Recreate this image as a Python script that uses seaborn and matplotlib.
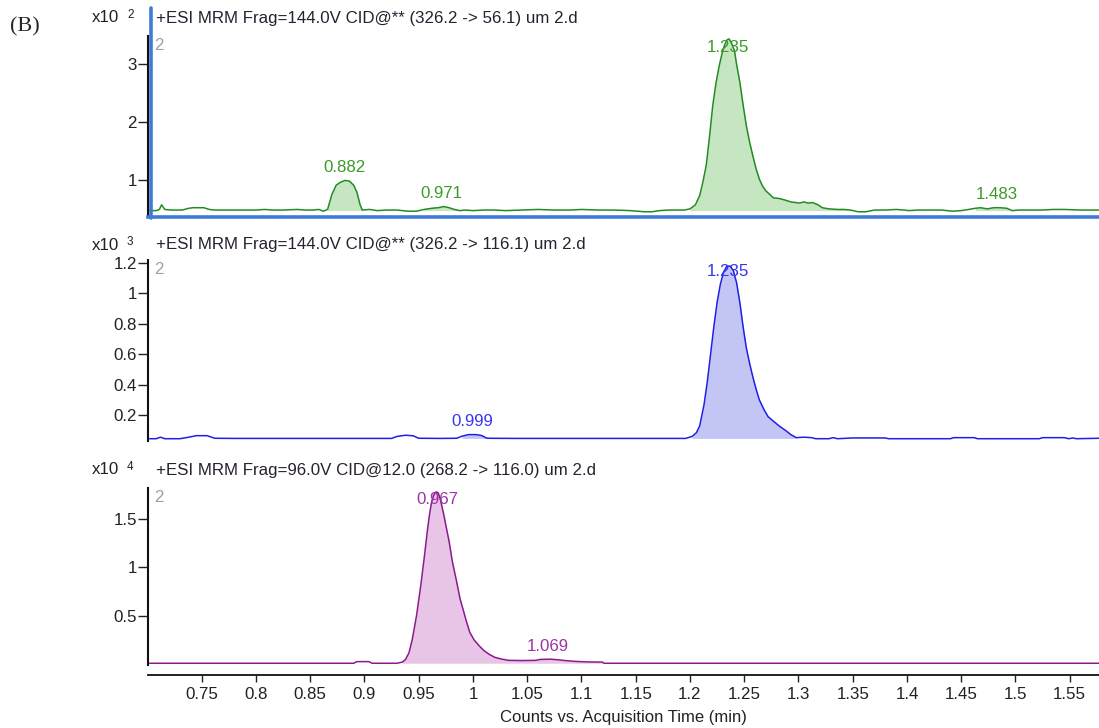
import numpy as np
import pandas as pd
import matplotlib
matplotlib.use('Agg')
import matplotlib.pyplot as plt
import seaborn as sns
from matplotlib.lines import Line2D
from matplotlib.ticker import FuncFormatter

# --- panel 1 : 326.2 -> 56.1 (x10^2 counts) ---
t1 = [0.702, 0.708, 0.711, 0.713, 0.716, 0.722, 0.732, 0.738, 0.742, 0.752,
      0.757, 0.762, 0.775, 0.790, 0.800, 0.808, 0.815, 0.825, 0.838, 0.845,
      0.852, 0.858, 0.862, 0.866, 0.870, 0.874, 0.878, 0.882, 0.886, 0.890,
      0.893, 0.896, 0.898, 0.905, 0.912, 0.920, 0.930, 0.940, 0.948, 0.955,
      0.962, 0.968, 0.973, 0.978, 0.983, 0.988, 0.993, 1.000, 1.010, 1.020,
      1.030, 1.045, 1.060, 1.075, 1.090, 1.100, 1.115, 1.130, 1.145, 1.158,
      1.165, 1.172, 1.180, 1.188, 1.195, 1.200, 1.205, 1.209, 1.212, 1.215,
      1.218, 1.221, 1.224, 1.227, 1.230, 1.232, 1.234, 1.236, 1.238, 1.241,
      1.243, 1.246, 1.249, 1.252, 1.255, 1.258, 1.261, 1.264, 1.267, 1.270,
      1.274, 1.277, 1.282, 1.288, 1.293, 1.297, 1.301, 1.305, 1.309, 1.313,
      1.318, 1.322, 1.328, 1.336, 1.342, 1.348, 1.355, 1.362, 1.370, 1.380,
      1.390, 1.397, 1.402, 1.410, 1.420, 1.432, 1.442, 1.450, 1.457, 1.463,
      1.468, 1.474, 1.480, 1.486, 1.492, 1.497, 1.503, 1.512, 1.525, 1.535,
      1.545, 1.560, 1.577]
y1 = [0.48, 0.48, 0.50, 0.58, 0.50, 0.49, 0.49, 0.52, 0.53, 0.53,
      0.50, 0.49, 0.49, 0.49, 0.49, 0.50, 0.49, 0.49, 0.50, 0.49,
      0.49, 0.50, 0.47, 0.50, 0.76, 0.92, 0.97, 1.00, 0.99, 0.92,
      0.80, 0.58, 0.49, 0.50, 0.48, 0.49, 0.49, 0.47, 0.47, 0.50,
      0.52, 0.53, 0.55, 0.53, 0.50, 0.48, 0.49, 0.48, 0.49, 0.49,
      0.48, 0.49, 0.50, 0.49, 0.49, 0.50, 0.49, 0.49, 0.48, 0.46,
      0.46, 0.48, 0.49, 0.49, 0.49, 0.51, 0.58, 0.74, 0.98, 1.26,
      1.75, 2.29, 2.68, 2.98, 3.22, 3.34, 3.42, 3.44, 3.38, 3.24,
      3.00, 2.69, 2.30, 1.94, 1.66, 1.42, 1.20, 1.02, 0.90, 0.82,
      0.75, 0.70, 0.69, 0.66, 0.63, 0.62, 0.61, 0.63, 0.61, 0.62,
      0.58, 0.53, 0.51, 0.50, 0.50, 0.49, 0.46, 0.46, 0.49, 0.49,
      0.50, 0.49, 0.48, 0.49, 0.49, 0.49, 0.47, 0.48, 0.50, 0.52,
      0.53, 0.51, 0.53, 0.53, 0.52, 0.48, 0.49, 0.49, 0.49, 0.50,
      0.50, 0.49, 0.49]
fills1 = [(0.866, 0.898), (0.955, 0.988), (1.200, 1.348), (1.463, 1.497)]
peaks1 = [0.882, 0.971, 1.235, 1.483]

# --- panel 2 : 326.2 -> 116.1 (x10^3 counts) ---
t2 = [0.702, 0.708, 0.712, 0.716, 0.730, 0.738, 0.745, 0.755, 0.762, 0.780,
      0.800, 0.830, 0.860, 0.900, 0.925, 0.930, 0.938, 0.945, 0.950, 0.970,
      0.985, 0.990, 0.996, 1.003, 1.008, 1.013, 1.040, 1.080, 1.120, 1.160,
      1.196, 1.202, 1.206, 1.209, 1.213, 1.216, 1.219, 1.222, 1.225, 1.228,
      1.231, 1.234, 1.237, 1.240, 1.243, 1.246, 1.249, 1.252, 1.255, 1.258,
      1.261, 1.264, 1.268, 1.272, 1.277, 1.282, 1.288, 1.293, 1.298, 1.305,
      1.312, 1.316, 1.328, 1.332, 1.336, 1.350, 1.380, 1.383, 1.440, 1.443,
      1.462, 1.465, 1.522, 1.525, 1.545, 1.549, 1.553, 1.556, 1.577]
y2 = [0.045, 0.045, 0.055, 0.045, 0.045, 0.055, 0.065, 0.065, 0.048, 0.047,
      0.047, 0.047, 0.047, 0.047, 0.047, 0.060, 0.068, 0.064, 0.048, 0.047,
      0.048, 0.062, 0.072, 0.072, 0.066, 0.048, 0.047, 0.047, 0.047, 0.047,
      0.047, 0.060, 0.085, 0.13, 0.27, 0.42, 0.60, 0.78, 0.94, 1.06,
      1.14, 1.18, 1.18, 1.15, 1.07, 0.94, 0.78, 0.64, 0.54, 0.45,
      0.37, 0.30, 0.24, 0.19, 0.16, 0.13, 0.10, 0.072, 0.052, 0.055,
      0.052, 0.045, 0.045, 0.052, 0.045, 0.050, 0.050, 0.045, 0.045, 0.052,
      0.052, 0.045, 0.045, 0.052, 0.052, 0.045, 0.050, 0.045, 0.048]
fills2 = [(0.990, 1.013), (1.202, 1.298)]
peaks2 = [0.999, 1.235]

# --- panel 3 : 268.2 -> 116.0 (x10^4 counts) ---
t3 = [0.702, 0.800, 0.890, 0.893, 0.904, 0.907, 0.930, 0.935, 0.938, 0.941,
      0.944, 0.948, 0.952, 0.955, 0.958, 0.960, 0.962, 0.964, 0.966, 0.968,
      0.970, 0.973, 0.976, 0.978, 0.981, 0.985, 0.988, 0.991, 0.994, 0.997,
      1.001, 1.006, 1.010, 1.015, 1.020, 1.026, 1.033, 1.045, 1.058, 1.062,
      1.072, 1.078, 1.085, 1.093, 1.105, 1.119, 1.121, 1.300, 1.577]
y3 = [0.008, 0.008, 0.008, 0.025, 0.025, 0.008, 0.008, 0.02, 0.05, 0.115,
      0.25, 0.50, 0.82, 1.09, 1.38, 1.55, 1.68, 1.75, 1.78, 1.77,
      1.70, 1.55, 1.38, 1.27, 1.06, 0.85, 0.68, 0.56, 0.44, 0.33,
      0.25, 0.185, 0.14, 0.10, 0.07, 0.052, 0.038, 0.036, 0.038, 0.048,
      0.050, 0.044, 0.036, 0.028, 0.022, 0.020, 0.008, 0.008, 0.008]
fills3 = [(0.935, 1.121)]
peaks3 = [0.967, 1.069]

titles = ['+ESI MRM Frag=144.0V CID@** (326.2 -> 56.1) um 2.d',
          '+ESI MRM Frag=144.0V CID@** (326.2 -> 116.1) um 2.d',
          '+ESI MRM Frag=96.0V CID@12.0 (268.2 -> 116.0) um 2.d']
exponents = ['2', '3', '4']
xticks = [0.75, 0.8, 0.85, 0.9, 0.95, 1.0, 1.05, 1.1, 1.15, 1.2, 1.25, 1.3,
          1.35, 1.4, 1.45, 1.5, 1.55]
yticks = [[1, 2, 3], [0.2, 0.4, 0.6, 0.8, 1.0, 1.2], [0.5, 1.0, 1.5]]

sns.set_style('ticks')
plt.rcParams['font.family'] = ['Liberation Sans', 'DejaVu Sans']

W, H = 1099, 728
fig = plt.figure(figsize=(W / 100, H / 100), dpi=100)

def px(x, y):
    return x / W, 1 - y / H

# axes boxes in pixels: (top, bottom)
boxes = [(36, 217), (260, 441), (488, 665)]
ylims = [(0.37, 3.49), (0.03, 1.22), (-0.01, 1.82)]
bases = [0.48, 0.047, 0.008]
line_cols = ['#228b22', '#1f1fe6', '#8b1a8b']
fill_cols = ['#c6e6c1', '#c3c6f5', '#e8c5e7']
text_cols = ['#3c9a2a', '#3535f0', '#9b35a5']
title_y = [18, 245, 470]
left_px = 148
fs = 12.2

panels = [(t1, y1, fills1, peaks1), (t2, y2, fills2, peaks2), (t3, y3, fills3, peaks3)]
fmt = FuncFormatter(lambda v, p: f'{v:g}')

for i, (t, y, fills, peaks) in enumerate(panels):
    top, bot = boxes[i]
    ax = fig.add_axes([left_px / W, 1 - bot / H, (W - left_px) / W, (bot - top) / H])
    t = np.array(t)
    y = np.array(y)
    df = pd.DataFrame({'t': t, 'y': y})
    for a, b in fills:
        mask = (t >= a) & (t <= b)
        ax.fill_between(t, y, bases[i], where=mask, color=fill_cols[i], lw=0, zorder=1)
    sns.lineplot(data=df, x='t', y='y', ax=ax, color=line_cols[i], linewidth=1.1,
                 estimator=None, sort=False, zorder=2)
    ax.set_xlim(0.7005, 1.577)
    ax.set_ylim(*ylims[i])
    ax.set_yticks(yticks[i])
    ax.yaxis.set_major_formatter(fmt)
    ax.set_xticks(xticks)
    ax.xaxis.set_major_formatter(fmt)
    ax.set_xlabel('')
    ax.set_ylabel('')
    ax.set_facecolor('none')
    for s in ['top', 'right']:
        ax.spines[s].set_visible(False)
    ax.spines['left'].set_color('#111111')
    ax.spines['left'].set_linewidth(1.5)
    ax.tick_params(axis='y', length=7, width=1, pad=1, labelsize=fs, colors='#222222')

    if i < 2:
        ax.tick_params(axis='x', length=0, labelbottom=False)
        ax.spines['bottom'].set_visible(i == 0)
    else:
        ax.spines['bottom'].set_position(('outward', 7.5))
        ax.spines['bottom'].set_color('#111111')
        ax.spines['bottom'].set_linewidth(1.3)
        ax.tick_params(axis='x', length=5, width=1, pad=3, labelsize=fs, colors='#222222')
        ax.set_xlabel('Counts vs. Acquisition Time (min)', fontsize=12, color='#222222', labelpad=6)

    # peak labels: 13 px above apex, kept inside the top of the axes
    for p in peaks:
        near = np.abs(t - p) <= 0.012
        apex = y[near].max()
        yd = ax.transData.transform((p, apex))[1] + 13
        yd = min(yd, ax.transAxes.transform((0, 1))[1] - 11)
        ylab = ax.transData.inverted().transform((0, yd))[1]
        ax.text(p, ylab, f'{p:.3f}', color=text_cols[i], fontsize=fs,
                ha='center', va='center', zorder=3)

    ax.text(0.006, 0.99, '2', transform=ax.transAxes, color='#a0a0a0', fontsize=fs,
            ha='left', va='top')

    # header
    fig.text(*px(92, title_y[i]), 'x10', fontsize=fs, va='center', ha='left', color='#222222')
    fig.text(*px(127, title_y[i] - 3), exponents[i], fontsize=8.5, va='center', ha='left', color='#222222')
    fig.text(*px(156, title_y[i]), titles[i], fontsize=fs, va='center', ha='left', color='#2a2030')

    if i == 0:
        ax.spines['bottom'].set_color('#3f7ad8')
        ax.spines['bottom'].set_linewidth(2.6)
        fig.add_artist(Line2D([151 / W, 151 / W], [1 - 8 / H, 1 - 218 / H],
                              color='#3f7ad8', lw=2.6, transform=fig.transFigure))

fig.text(*px(10, 27), '(B)', fontsize=16, family='Liberation Serif', va='center', ha='left')

fig.savefig('out.png', dpi=100)
